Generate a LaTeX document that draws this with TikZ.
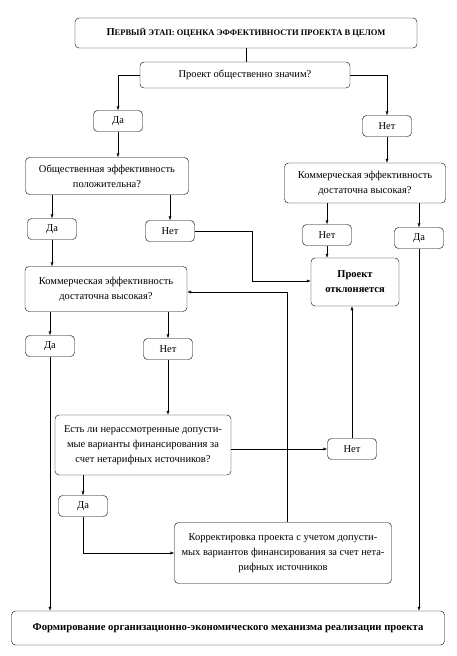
\documentclass[tikz,border=0pt]{standalone}
\usepackage{fontspec}
\setmainfont{Liberation Serif}
\usetikzlibrary{arrows.meta,positioning}

\begin{document}
\begin{tikzpicture}[x=1pt,y=-1pt]
\tikzstyle{every node}+=[inner sep=0pt]
\tikzstyle{blk}=[draw, rounded corners=4pt, align=center, font=\fontsize{10.5}{15}\selectfont]
\tikzstyle{ans}=[blk, minimum width=49, minimum height=21]
\tikzstyle{arr}=[-{Latex[length=4pt,width=3pt]}]
\useasboundingbox (0,0) rectangle (457,656);
% blocks
\node[blk, minimum width=342, minimum height=30, font=\fontsize{10.5}{12}\selectfont\bfseries] (stage) at (246,33)
  {П{\fontsize{8.5}{10}\selectfont ЕРВЫЙ ЭТАП: ОЦЕНКА ЭФФЕКТИВНОСТИ ПРОЕКТА В ЦЕЛОМ}};
\node[blk, minimum width=210, minimum height=26] (q1) at (245,75) {Проект общественно значим?};
\node[ans] (yes1) at (118,121) {Да};
\node[ans] (no1) at (387,126) {Нет};
\node[blk, minimum width=163, minimum height=37] (q2) at (107,176) {Общественная эффективность\\положительна?};
\node[blk, minimum width=161, minimum height=40] (q3) at (365,183) {Коммерческая эффективность\\достаточна высокая?};
\node[ans] (yes2) at (52,229) {Да};
\node[ans] (no2) at (170,231) {Нет};
\node[ans] (no3) at (327,235) {Нет};
\node[ans] (yes3) at (419,238) {Да};
\node[blk, minimum width=88, minimum height=48, font=\fontsize{10.5}{15}\selectfont\bfseries] (reject) at (355,282) {Проект\\отклоняется};
\node[blk, minimum width=162, minimum height=45] (q4) at (106,289) {Коммерческая эффективность\\достаточна высокая?};
\node[ans] (yes4) at (50,346) {Да};
\node[ans] (no4) at (168,349) {Нет};
\node[blk, minimum width=176, minimum height=60] (q5) at (143,445)
  {Есть ли нерассмотренные допусти-\\мые варианты финансирования за\\счет нетарифных источников?};
\node[ans] (no5) at (352,449) {Нет};
\node[ans] (yes5) at (83,506) {Да};
\node[blk, minimum width=217, minimum height=61] (fix) at (283,553)
  {Корректировка проекта с учетом допусти-\\мых вариантов финансирования за счет нета-\\рифных источников};
\node[blk, minimum width=433, minimum height=34, font=\fontsize{10.7}{12}\selectfont\bfseries] (final) at (228,628)
  {Формирование организационно-экономического механизма реализации проекта};
\coordinate (bend) at (252,281);
\coordinate (loop) at (287,292);
% connectors
\draw (stage) -- (stage |- q1.north);
\draw[arr] (q1.west) -| (yes1.north);
\draw[arr] (q1.east) -| (no1.north);
\draw[arr] (yes1.south) -- (yes1 |- q2.north);
\draw[arr] (no1.south) -- (no1 |- q3.north);
\draw[arr] (yes2 |- q2.south) -- (yes2.north);
\draw[arr] (no2 |- q2.south) -- (no2.north);
\draw[arr] (no3 |- q3.south) -- (no3.north);
\draw[arr] (yes3 |- q3.south) -- (yes3.north);
\draw[arr] (no3.south) -- (no3 |- reject.north);
\draw[arr] (no2.east) -| (bend) -- (bend -| reject.west);
\draw[arr] (yes2.south) -- (yes2 |- q4.north);
\draw[arr] (yes4 |- q4.south) -- (yes4.north);
\draw[arr] (no4 |- q4.south) -- (no4.north);
\draw[arr] (no4.south) -- (no4 |- q5.north);
\draw[arr] (q5.east |- no5) -- (no5.west);
\draw[arr] (no5.north) -- (no5 |- reject.south);
\draw[arr] (yes5 |- q5.south) -- (yes5.north);
\draw[arr] (yes5.south) |- (fix.west);
\draw[arr] (loop |- fix.north) -- (loop) -- (loop -| q4.east);
\draw[arr] (yes4.south) -- (yes4 |- final.north);
\draw[arr] (yes3.south) -- (yes3 |- final.north);
\end{tikzpicture}
\end{document}
